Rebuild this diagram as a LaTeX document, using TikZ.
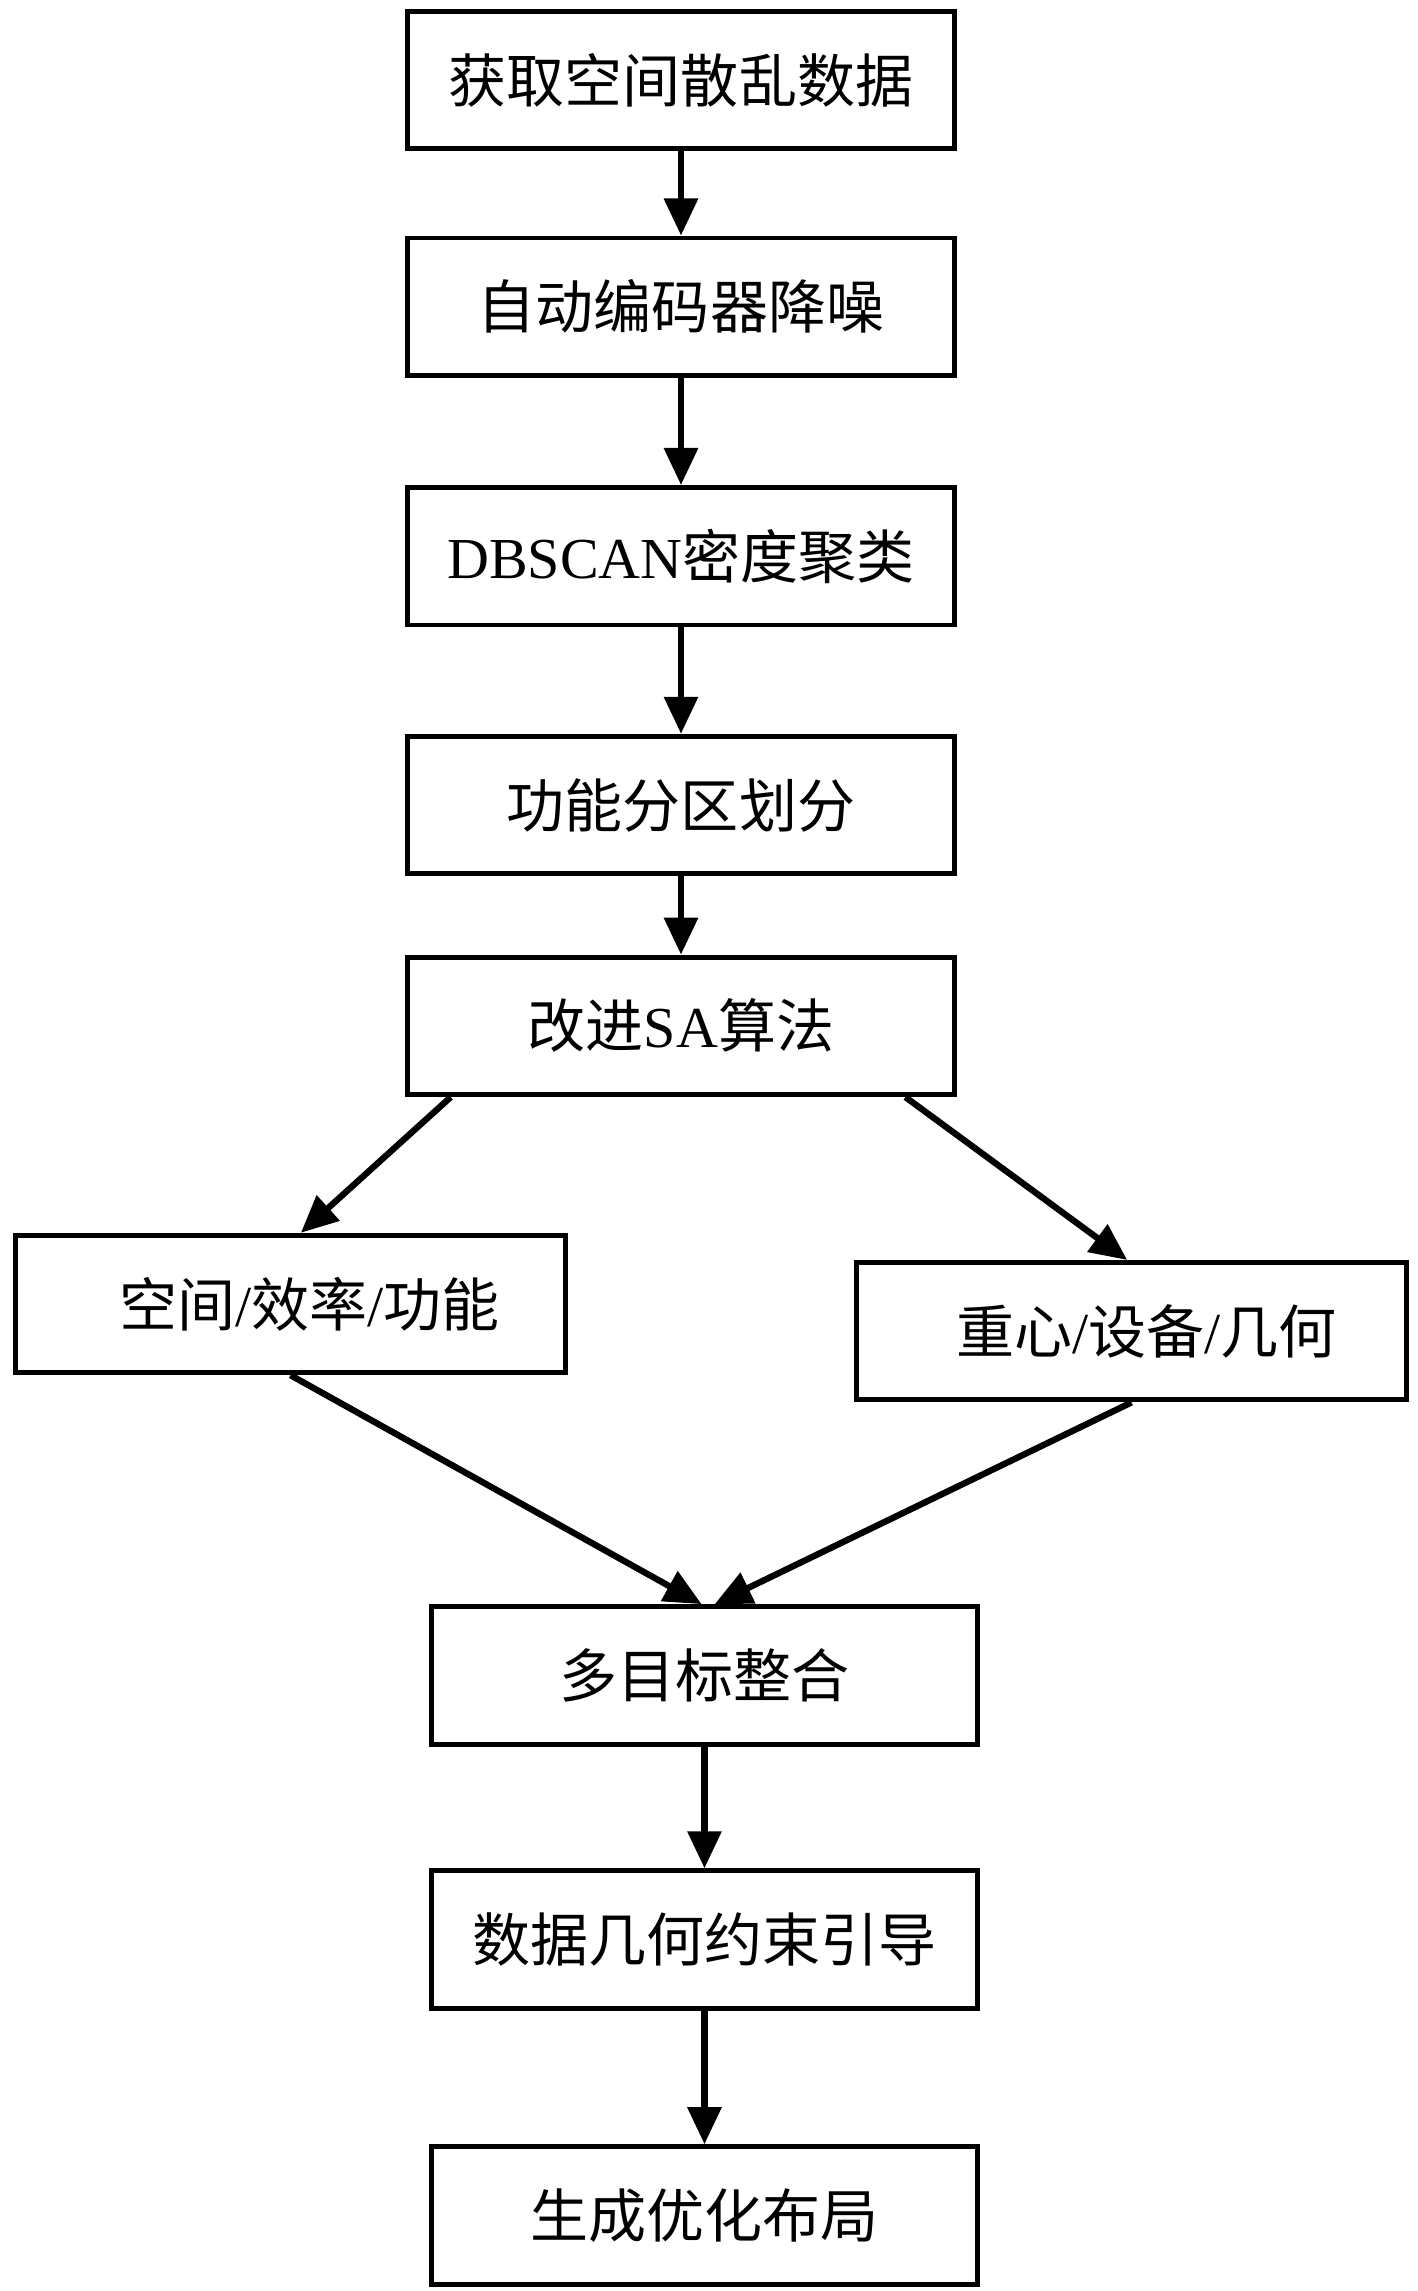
\documentclass[tikz,border=0pt]{standalone}
\usepackage{fontspec}
\setmainfont{Liberation Serif}
\newfontfamily\cjk{Noto Sans CJK SC}
\newfontfamily\lat{Liberation Serif}
\usetikzlibrary{calc,arrows.meta}

\begin{document}
\begin{tikzpicture}[x=0.02934cm, y=-0.02934cm,
    STEP/.style={rectangle, draw=black, line width=2.8pt, minimum width=10.93cm, minimum height=2.75cm, inner sep=0pt, font=\fontsize{33}{40}\selectfont\cjk},
    GOAL/.style={STEP, minimum width=10.99cm},
    LINK/.style={line width=3.6pt, -{Triangle[length=0.74cm, width=0.66cm]}}
    ]
        \useasboundingbox (0,0) rectangle (966,1561);
        \node[STEP] (S1) at (464,54.5) {获取空间散乱数据};
        \node[STEP] (S2) at (464,209) {自动编码器降噪};
        \node[STEP] (S3) at (464,379) {{\lat DBSCAN}密度聚类};
        \node[STEP] (S4) at (464,548.5) {功能分区划分};
        \node[STEP] (S5) at (464,699) {改进{\lat SA}算法};
        \node[GOAL] (G1) at (198,888.5) {\hspace*{0.76cm}空间{\lat /}效率{\lat /}功能};
        \node[GOAL] (G2) at (771,907) {\hspace*{0.59cm}重心{\lat /}设备{\lat /}几何};
        \node[STEP] (S6) at (480,1141.5) {多目标整合};
        \node[STEP] (S7) at (480,1321.5) {数据几何约束引导};
        \node[STEP] (S8) at (480,1509.5) {生成优化布局};
        \foreach \a/\b in {S1/S2,S2/S3,S3/S4,S4/S5,S6/S7,S7/S8}
            \draw[LINK] (\a) -- (\b);
        \draw[LINK] ($(S5.south west)+(31,0)$) -- ($(G1.north)+(7,0)$);
        \draw[LINK] ($(S5.south east)+(-35,0)$) -- ($(G2.north)+(-3,0)$);
        \draw[LINK] (G1.south) -- ($(S6.north)+(-2,0)$);
        \draw[LINK] (G2.south) -- ($(S6.north)+(7,0)$);
    \end{tikzpicture}
\end{document}
